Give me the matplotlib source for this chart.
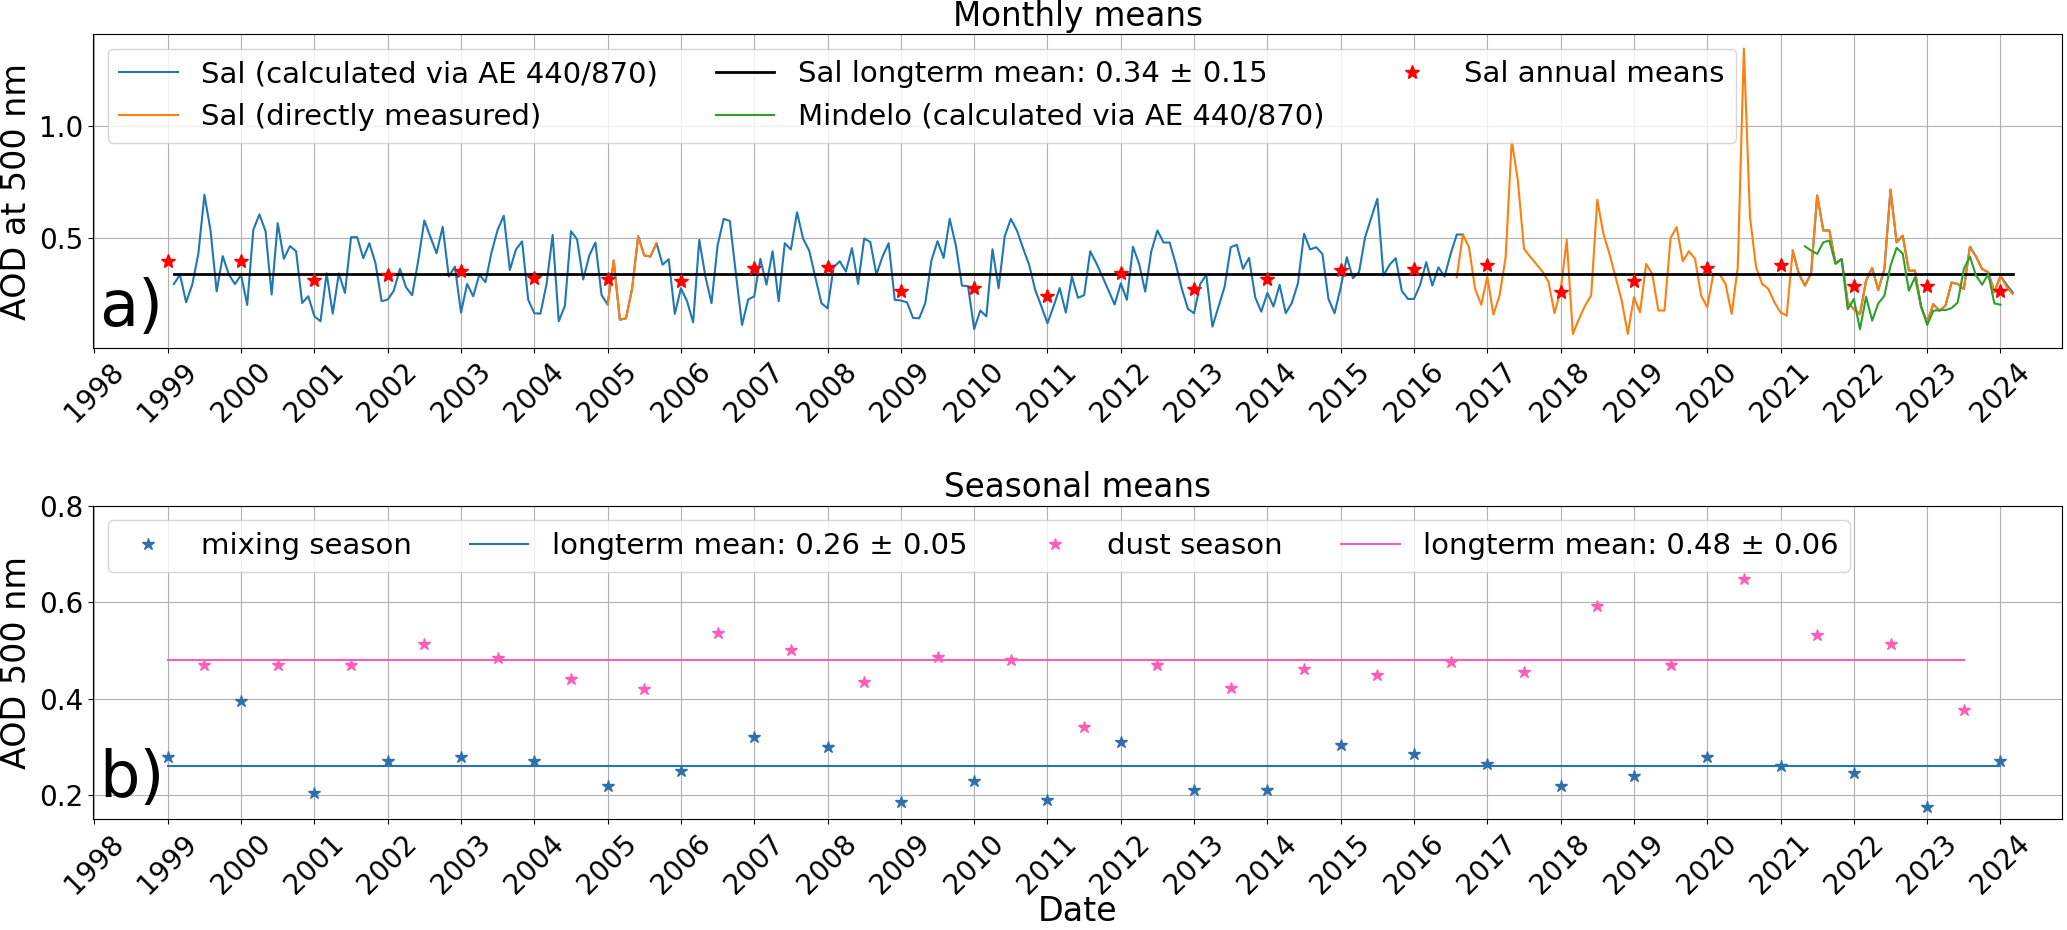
import numpy as np
import matplotlib.pyplot as plt

plt.rcParams["font.size"] = 20

# monthly AOD at 500 nm, month index 0 = Jan 1999 (plotted at month end)
# Sal, calculated via AE 440/870, Jan 1999 - Aug 2016
sal_ae_early = [
    0.293, 0.335, 0.211, 0.290, 0.428, 0.693, 0.533, 0.260, 0.418, 0.335, 0.293, 0.334,
    0.199, 0.536, 0.605, 0.530, 0.246, 0.566, 0.406, 0.463, 0.440, 0.208, 0.238, 0.148,
    0.126, 0.341, 0.160, 0.341, 0.253, 0.503, 0.503, 0.409, 0.476, 0.386, 0.216, 0.223,
    0.263, 0.361, 0.278, 0.243, 0.398, 0.578, 0.503, 0.431, 0.549, 0.326, 0.371, 0.165,
    0.293, 0.238, 0.335, 0.301, 0.436, 0.536, 0.599, 0.356, 0.448, 0.484, 0.222, 0.162,
    0.160, 0.293, 0.513, 0.126, 0.195, 0.530, 0.493, 0.313, 0.421, 0.479, 0.244, 0.201,
    0.398, 0.133, 0.139, 0.271, 0.507, 0.421, 0.416, 0.476, 0.380, 0.404, 0.159, 0.274,
    0.216, 0.121, 0.491, 0.328, 0.207, 0.466, 0.585, 0.576, 0.338, 0.109, 0.223, 0.238,
    0.406, 0.290, 0.440, 0.216, 0.476, 0.448, 0.615, 0.496, 0.443, 0.323, 0.207, 0.184,
    0.368, 0.395, 0.349, 0.454, 0.293, 0.497, 0.481, 0.335, 0.416, 0.476, 0.222, 0.219,
    0.211, 0.141, 0.139, 0.208, 0.398, 0.485, 0.410, 0.585, 0.466, 0.286, 0.283, 0.091,
    0.174, 0.148, 0.449, 0.274, 0.507, 0.585, 0.533, 0.454, 0.379, 0.266, 0.193, 0.117,
    0.193, 0.275, 0.165, 0.326, 0.231, 0.243, 0.440, 0.386, 0.326, 0.263, 0.201, 0.296,
    0.222, 0.460, 0.383, 0.259, 0.440, 0.533, 0.479, 0.479, 0.383, 0.271, 0.181, 0.162,
    0.293, 0.334, 0.102, 0.192, 0.281, 0.458, 0.469, 0.361, 0.410, 0.234, 0.169, 0.253,
    0.192, 0.289, 0.162, 0.208, 0.296, 0.518, 0.448, 0.458, 0.428, 0.226, 0.162, 0.278,
    0.413, 0.319, 0.346, 0.503, 0.590, 0.675, 0.331, 0.379, 0.409, 0.263, 0.226, 0.226,
    0.289, 0.391, 0.286, 0.368, 0.326, 0.428, 0.515, 0.515,
]
sal_ae_early_start = 0

# Sal, calculated via AE 440/870, Feb 2021 - Feb 2024
sal_ae_late = [
    0.443, 0.338, 0.286, 0.341, 0.690, 0.533, 0.533, 0.386, 0.405, 0.211, 0.180, 0.158,
    0.308, 0.365, 0.266, 0.360, 0.716, 0.480, 0.510, 0.353, 0.353, 0.190, 0.121, 0.203,
    0.173, 0.196, 0.300, 0.293, 0.270, 0.460, 0.416, 0.360, 0.346, 0.256, 0.330, 0.290,
    0.255,
]
sal_ae_late_start = 265

# Sal, directly measured
sal_dir_2005 = [0.201, 0.398, 0.133, 0.139, 0.271, 0.507, 0.421, 0.416, 0.476]
sal_dir_2005_start = 71
sal_dir_late = [
    0.323, 0.515, 0.458, 0.271, 0.200, 0.326, 0.156, 0.241, 0.413, 0.937, 0.757, 0.451,
    0.416, 0.383, 0.350, 0.304, 0.162, 0.263, 0.491, 0.069, 0.136, 0.196, 0.241, 0.671,
    0.518, 0.428, 0.323, 0.219, 0.069, 0.234, 0.166, 0.383, 0.338, 0.174, 0.174, 0.500,
    0.548, 0.395, 0.440, 0.406, 0.241, 0.189, 0.338, 0.338, 0.293, 0.159, 0.368, 1.349,
    0.593, 0.368, 0.293, 0.271, 0.211, 0.166, 0.151, 0.443, 0.338, 0.286, 0.341, 0.690,
    0.533, 0.533, 0.386, 0.405, 0.211, 0.180, 0.158, 0.308, 0.365, 0.266, 0.360, 0.716,
    0.480, 0.510, 0.353, 0.353, 0.190, 0.121, 0.203, 0.173, 0.196, 0.300, 0.293, 0.270,
    0.460, 0.416, 0.360, 0.346, 0.256, 0.330, 0.280, 0.248,
]
sal_dir_late_start = 210

# Mindelo, calculated via AE 440/870
mindelo_ae = [
    0.462, 0.443, 0.428, 0.480, 0.488, 0.383, 0.405, 0.180, 0.226, 0.090, 0.236, 0.129,
    0.206, 0.240, 0.375, 0.455, 0.430, 0.263, 0.323, 0.196, 0.109, 0.173, 0.176, 0.176,
    0.185, 0.210, 0.360, 0.416, 0.331, 0.290, 0.338, 0.206, 0.200,
]
mindelo_start = 267

# Sal annual means
annual_years = list(range(1999, 2025))
annual_means = [
    0.398, 0.395, 0.311, 0.334, 0.353, 0.320, 0.316, 0.305, 0.364, 0.368, 0.260, 0.274, 0.237,
    0.343, 0.269, 0.316, 0.356, 0.361, 0.379, 0.259, 0.305, 0.364, 0.380, 0.286, 0.286, 0.263,
]
sal_mean, sal_std = 0.34, 0.15

# seasonal means
mixing_years = list(range(1999, 2025))
mixing_means = [
    0.280, 0.395, 0.205, 0.270, 0.280, 0.270, 0.220, 0.250, 0.320, 0.300, 0.185, 0.230, 0.190,
    0.310, 0.210, 0.210, 0.305, 0.285, 0.265, 0.220, 0.240, 0.280, 0.260, 0.245, 0.175, 0.270,
]
dust_years = [y + 0.5 for y in range(1999, 2024)]
dust_means = [
    0.470, 0.470, 0.470, 0.513, 0.485, 0.440, 0.420, 0.537, 0.500, 0.435, 0.487, 0.480, 0.342,
    0.470, 0.423, 0.462, 0.450, 0.477, 0.455, 0.593, 0.470, 0.647, 0.532, 0.513, 0.377,
]
mixing_mean, mixing_std = 0.26, 0.05
dust_mean, dust_std = 0.48, 0.06

year_ticks = list(range(1998, 2025))


def month_x(start, n):
    # decimal year at the end of each month
    return 1999 + (np.arange(start, start + n) + 1) / 12.0


fig = plt.figure(figsize=(20.67, 9.3), dpi=100)
ax1 = fig.add_axes([0.045, 0.6258, 0.9526, 0.3376])
ax2 = fig.add_axes([0.045, 0.119, 0.9526, 0.3373])

# --- a) monthly means
blue, orange, green = "#1f77b4", "#ff7f0e", "#2ca02c"
x_early = month_x(sal_ae_early_start, len(sal_ae_early))
ax1.plot(x_early, sal_ae_early, color=blue, lw=1.5, label="Sal (calculated via AE 440/870)")
ax1.plot(month_x(sal_ae_late_start, len(sal_ae_late)), sal_ae_late, color=blue, lw=1.5)
ax1.plot(month_x(sal_dir_2005_start, len(sal_dir_2005)), sal_dir_2005, color=orange, lw=1.5,
         label="Sal (directly measured)")
x_late = month_x(sal_dir_late_start, len(sal_dir_late))
ax1.plot(x_late, sal_dir_late, color=orange, lw=1.5)
ax1.plot([x_early[0], x_late[-1]], [sal_mean, sal_mean], color="black", lw=2,
         label=f"Sal longterm mean: {sal_mean:.2f} \u00b1 {sal_std:.2f}")
ax1.plot(month_x(mindelo_start, len(mindelo_ae)), mindelo_ae, color=green, lw=1.5,
         label="Mindelo (calculated via AE 440/870)")
ax1.plot(annual_years, annual_means, "r*", ms=10, ls="none", label="Sal annual means")

ax1.set_title("Monthly means", fontsize=23.5)
ax1.set_ylabel("AOD at 500 nm", fontsize=24)
ax1.set_ylim(0.006, 1.414)
ax1.set_yticks([0.5, 1.0])
ax1.legend(ncol=3, loc="upper left", fontsize=21)
ax1.text(0.003, 0.07, "a)", transform=ax1.transAxes, fontsize=46)

# --- b) seasonal means
pink = "#ff5cb8"
mix_color = "#2f6fac"
ax2.plot(mixing_years, mixing_means, "*", color=mix_color, ms=9, ls="none", label="mixing season")
ax2.plot([mixing_years[0], mixing_years[-1]], [mixing_mean, mixing_mean], color=blue, lw=1.5,
         label=f"longterm mean: {mixing_mean:.2f} \u00b1 {mixing_std:.2f}")
ax2.plot(dust_years, dust_means, "*", color=pink, ms=9, ls="none", label="dust season")
ax2.plot([mixing_years[0], dust_years[-1]], [dust_mean, dust_mean], color=pink, lw=1.5,
         label=f"longterm mean: {dust_mean:.2f} \u00b1 {dust_std:.2f}")

ax2.set_title("Seasonal means", fontsize=23.5)
ax2.set_ylabel("AOD 500 nm", fontsize=24)
ax2.set_xlabel("Date", fontsize=24, labelpad=-3)
ax2.set_ylim(0.15, 0.8)
ax2.set_yticks([0.2, 0.4, 0.6, 0.8])
ax2.legend(ncol=4, loc="upper left", fontsize=21)
ax2.text(0.003, 0.07, "b)", transform=ax2.transAxes, fontsize=46)

for ax in (ax1, ax2):
    ax.set_xlim(1997.98, 2024.84)
    ax.set_xticks(year_ticks)
    ax.set_xticklabels([str(y) for y in year_ticks], rotation=45)
    ax.grid(True)

fig.savefig("out.png", dpi=100)
